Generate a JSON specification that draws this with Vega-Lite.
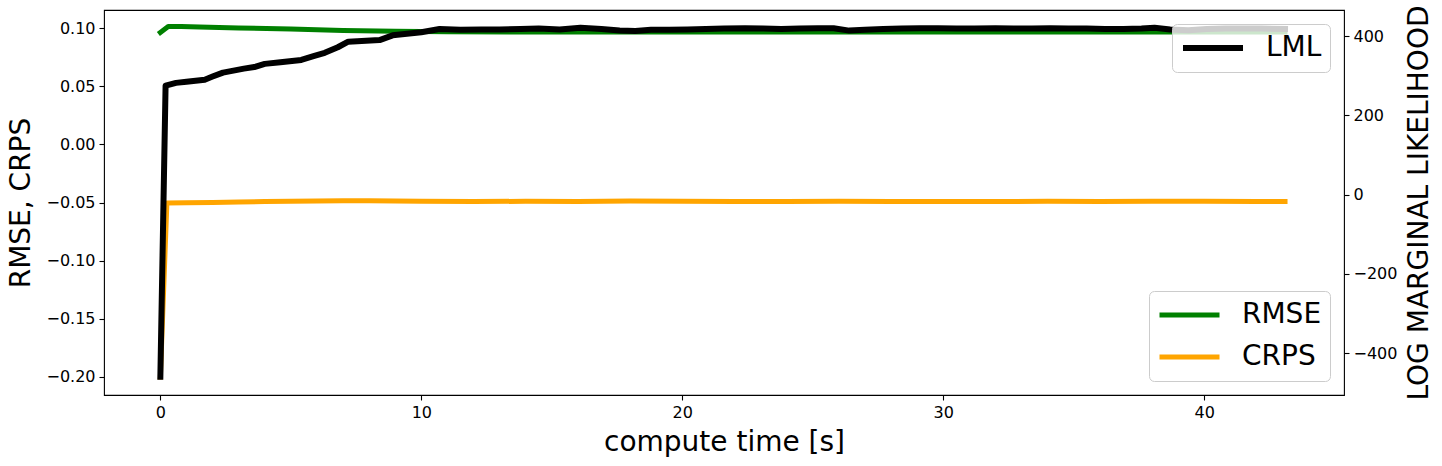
{
  "$schema": "https://vega.github.io/schema/vega-lite/v6.json",
  "width": 1240,
  "height": 385,
  "autosize": {"type": "none"},
  "padding": {"left": 104, "top": 10, "right": 98, "bottom": 71},
  "background": "white",
  "config": {
    "font": "DejaVu Sans",
    "view": {"stroke": "black", "strokeWidth": 1.1},
    "axis": {
      "grid": false,
      "domain": false,
      "tickColor": "black",
      "tickSize": 5,
      "tickWidth": 1.1,
      "labelColor": "black",
      "labelFontSize": 16,
      "labelFont": "DejaVu Sans",
      "labelPadding": 4,
      "titleFont": "DejaVu Sans",
      "titleFontSize": 28,
      "titleFontWeight": "normal",
      "titleColor": "black"
    },
    "legend": {
      "labelFont": "DejaVu Sans",
      "labelFontSize": 28,
      "labelColor": "black",
      "symbolType": "stroke",
      "symbolSize": 3600,
      "symbolStrokeWidth": 5,
      "labelOffset": 20,
      "padding": 8,
      "rowPadding": 10,
      "clipHeight": 32,
      "fillColor": "rgba(255,255,255,0.8)",
      "strokeColor": "#cccccc",
      "cornerRadius": 5,
      "offset": 14
    }
  },
  "datasets": {
    "scores": [
      {"t": 0, "series": "RMSE", "value": 0.0962},
      {"t": 0.3, "series": "RMSE", "value": 0.1013},
      {"t": 0.8, "series": "RMSE", "value": 0.1014},
      {"t": 1.5, "series": "RMSE", "value": 0.1009},
      {"t": 3, "series": "RMSE", "value": 0.1001},
      {"t": 5, "series": "RMSE", "value": 0.0991},
      {"t": 7, "series": "RMSE", "value": 0.0979},
      {"t": 9, "series": "RMSE", "value": 0.0973},
      {"t": 11, "series": "RMSE", "value": 0.0968},
      {"t": 15, "series": "RMSE", "value": 0.0966},
      {"t": 20, "series": "RMSE", "value": 0.0965},
      {"t": 25, "series": "RMSE", "value": 0.0965},
      {"t": 30, "series": "RMSE", "value": 0.0965},
      {"t": 35, "series": "RMSE", "value": 0.0965},
      {"t": 40, "series": "RMSE", "value": 0.0965},
      {"t": 43.1, "series": "RMSE", "value": 0.0965},
      {"t": 0, "series": "CRPS", "value": -0.2},
      {"t": 0.25, "series": "CRPS", "value": -0.0505},
      {"t": 1, "series": "CRPS", "value": -0.0503},
      {"t": 2, "series": "CRPS", "value": -0.0499},
      {"t": 3, "series": "CRPS", "value": -0.0495},
      {"t": 4, "series": "CRPS", "value": -0.0492},
      {"t": 5, "series": "CRPS", "value": -0.049},
      {"t": 6, "series": "CRPS", "value": -0.0487},
      {"t": 7, "series": "CRPS", "value": -0.0485},
      {"t": 8, "series": "CRPS", "value": -0.0486},
      {"t": 9, "series": "CRPS", "value": -0.0488},
      {"t": 10, "series": "CRPS", "value": -0.049},
      {"t": 12, "series": "CRPS", "value": -0.0491},
      {"t": 14, "series": "CRPS", "value": -0.049},
      {"t": 16, "series": "CRPS", "value": -0.0491},
      {"t": 18, "series": "CRPS", "value": -0.0488},
      {"t": 20, "series": "CRPS", "value": -0.0489},
      {"t": 22, "series": "CRPS", "value": -0.0491},
      {"t": 24, "series": "CRPS", "value": -0.0491},
      {"t": 26, "series": "CRPS", "value": -0.049},
      {"t": 28, "series": "CRPS", "value": -0.0491},
      {"t": 30, "series": "CRPS", "value": -0.0491},
      {"t": 32, "series": "CRPS", "value": -0.0491},
      {"t": 34, "series": "CRPS", "value": -0.049},
      {"t": 36, "series": "CRPS", "value": -0.0491},
      {"t": 38, "series": "CRPS", "value": -0.049},
      {"t": 40, "series": "CRPS", "value": -0.0489},
      {"t": 42, "series": "CRPS", "value": -0.0491},
      {"t": 43.1, "series": "CRPS", "value": -0.0491}
    ],
    "lml": [
      {"t": 0, "series": "LML", "value": -460},
      {"t": 0.2, "series": "LML", "value": 275},
      {"t": 0.6, "series": "LML", "value": 282},
      {"t": 1.0, "series": "LML", "value": 285},
      {"t": 1.7, "series": "LML", "value": 290},
      {"t": 2.0, "series": "LML", "value": 298},
      {"t": 2.4, "series": "LML", "value": 308},
      {"t": 3.2, "series": "LML", "value": 318},
      {"t": 3.6, "series": "LML", "value": 322},
      {"t": 4.0, "series": "LML", "value": 330},
      {"t": 4.6, "series": "LML", "value": 334},
      {"t": 5.4, "series": "LML", "value": 340},
      {"t": 5.9, "series": "LML", "value": 350},
      {"t": 6.3, "series": "LML", "value": 358},
      {"t": 6.8, "series": "LML", "value": 372},
      {"t": 7.2, "series": "LML", "value": 386},
      {"t": 8.4, "series": "LML", "value": 390},
      {"t": 8.9, "series": "LML", "value": 402},
      {"t": 10.0, "series": "LML", "value": 410},
      {"t": 10.7, "series": "LML", "value": 418},
      {"t": 11.5, "series": "LML", "value": 416},
      {"t": 12.3, "series": "LML", "value": 417},
      {"t": 13.0, "series": "LML", "value": 417},
      {"t": 13.8, "series": "LML", "value": 418},
      {"t": 14.5, "series": "LML", "value": 419},
      {"t": 15.3, "series": "LML", "value": 417},
      {"t": 16.1, "series": "LML", "value": 421},
      {"t": 16.9, "series": "LML", "value": 418},
      {"t": 17.6, "series": "LML", "value": 414},
      {"t": 18.2, "series": "LML", "value": 413},
      {"t": 18.8, "series": "LML", "value": 416},
      {"t": 19.5, "series": "LML", "value": 416},
      {"t": 20.2, "series": "LML", "value": 417},
      {"t": 20.9, "series": "LML", "value": 418},
      {"t": 21.6, "series": "LML", "value": 419},
      {"t": 22.4, "series": "LML", "value": 420},
      {"t": 23.1, "series": "LML", "value": 419},
      {"t": 23.8, "series": "LML", "value": 418},
      {"t": 24.5, "series": "LML", "value": 419},
      {"t": 25.2, "series": "LML", "value": 420},
      {"t": 25.8, "series": "LML", "value": 420},
      {"t": 26.4, "series": "LML", "value": 414},
      {"t": 27.0, "series": "LML", "value": 416},
      {"t": 27.7, "series": "LML", "value": 418},
      {"t": 28.4, "series": "LML", "value": 419},
      {"t": 29.1, "series": "LML", "value": 420},
      {"t": 29.8, "series": "LML", "value": 420},
      {"t": 30.5, "series": "LML", "value": 419},
      {"t": 31.2, "series": "LML", "value": 419},
      {"t": 32.0, "series": "LML", "value": 420},
      {"t": 32.7, "series": "LML", "value": 419},
      {"t": 33.4, "series": "LML", "value": 419},
      {"t": 34.1, "series": "LML", "value": 420},
      {"t": 34.8, "series": "LML", "value": 419},
      {"t": 35.5, "series": "LML", "value": 419},
      {"t": 36.2, "series": "LML", "value": 418},
      {"t": 36.9, "series": "LML", "value": 418},
      {"t": 37.6, "series": "LML", "value": 419},
      {"t": 38.1, "series": "LML", "value": 421},
      {"t": 38.7, "series": "LML", "value": 417},
      {"t": 39.4, "series": "LML", "value": 415},
      {"t": 40.1, "series": "LML", "value": 418},
      {"t": 40.8, "series": "LML", "value": 419},
      {"t": 41.5, "series": "LML", "value": 419},
      {"t": 42.2, "series": "LML", "value": 419},
      {"t": 43.1, "series": "LML", "value": 418}
    ]
  },
  "layer": [
    {
      "data": {"name": "scores"},
      "mark": {"type": "line", "strokeWidth": 5, "strokeJoin": "round", "strokeCap": "square"},
      "encoding": {
        "x": {
          "field": "t",
          "type": "quantitative",
          "scale": {"domain": [-2.16, 45.36], "nice": false, "zero": false},
          "axis": {"values": [0, 10, 20, 30, 40], "title": "compute time [s]", "titlePadding": 8}
        },
        "y": {
          "field": "value",
          "type": "quantitative",
          "scale": {"domain": [-0.2155, 0.1155], "nice": false, "zero": false},
          "axis": {
            "orient": "left",
            "values": [-0.2, -0.15, -0.1, -0.05, 0, 0.05, 0.1],
            "format": ".2f",
            "title": "RMSE, CRPS",
            "titlePadding": 10
          }
        },
        "color": {
          "field": "series",
          "type": "nominal",
          "scale": {"domain": ["RMSE", "CRPS"], "range": ["#008000", "#ffa500"]},
          "legend": {"orient": "bottom-right", "title": null}
        }
      }
    },
    {
      "data": {"name": "lml"},
      "mark": {"type": "line", "strokeWidth": 6, "strokeJoin": "round", "strokeCap": "square"},
      "encoding": {
        "x": {
          "field": "t",
          "type": "quantitative",
          "scale": {"domain": [-2.16, 45.36], "nice": false, "zero": false},
          "axis": {"values": [0, 10, 20, 30, 40], "title": "compute time [s]", "titlePadding": 8}
        },
        "y": {
          "field": "value",
          "type": "quantitative",
          "scale": {"domain": [-506, 466], "nice": false, "zero": false},
          "axis": {
            "orient": "right",
            "values": [-400, -200, 0, 200, 400],
            "format": "d",
            "title": "LOG MARGINAL LIKELIHOOD",
            "titleAngle": 270,
            "titleBaseline": "top",
            "titlePadding": 9
          }
        },
        "color": {
          "field": "series",
          "type": "nominal",
          "scale": {"domain": ["LML"], "range": ["black"]},
          "legend": {"orient": "top-right", "title": null, "symbolStrokeWidth": 6}
        }
      }
    }
  ],
  "resolve": {
    "scale": {"y": "independent", "color": "independent"},
    "legend": {"color": "independent"}
  }
}
